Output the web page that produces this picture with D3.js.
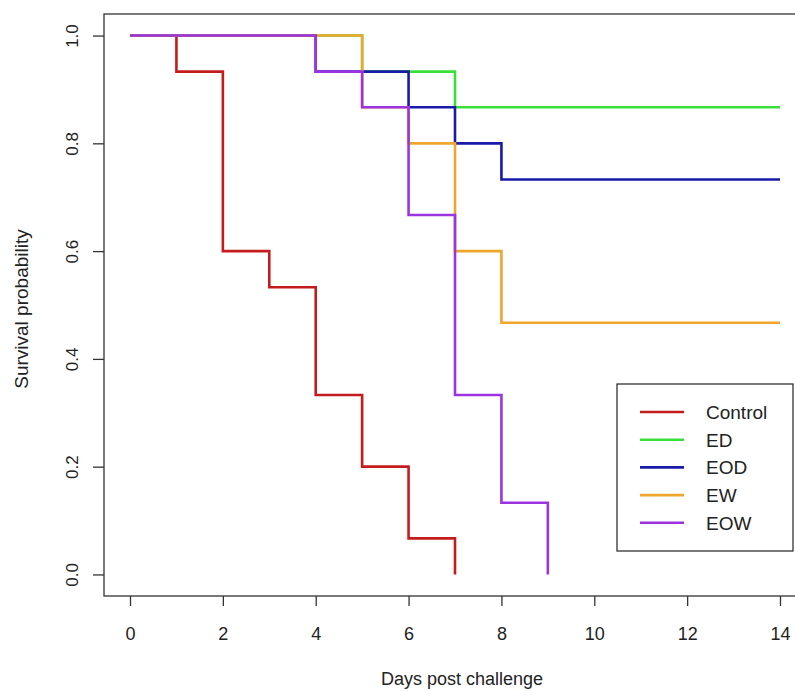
<!DOCTYPE html>
<html><head><meta charset="utf-8">
<script src="https://cdn.jsdelivr.net/npm/d3@7"></script>
<style>body{margin:0;background:#fff}svg{display:block;font-family:"Liberation Sans",Arial,sans-serif}</style>
</head><body>
<svg id="chart" width="795" height="691"></svg>
<script>
const groups = ["Control","ED","EOD","EW","EOW"];
const colors = ["#c41c1c","#3ae03a","#1a1aa8","#eea62c","#9b34e0"];
const controlTimes = [0,1,2,3,4,5,6,7];
const controlSurv  = [1,0.933,0.6,0.533,0.333,0.2,0.067,0];
const edTimes = [0,5,7,14];
const edSurv  = [1,0.933,0.867,0.867];
const eodTimes = [0,4,6,7,8,14];
const eodSurv  = [1,0.933,0.867,0.8,0.733,0.733];
const ewTimes = [0,5,6,7,8,14];
const ewSurv  = [1,0.867,0.8,0.6,0.467,0.467];
const eowTimes = [0,4,5,6,7,8,9];
const eowSurv  = [1,0.933,0.867,0.667,0.333,0.133,0];
const xTicks = [0,2,4,6,8,10,12,14];
const yTicks = [0,0.2,0.4,0.6,0.8,1.0];
const xTitle = "Days post challenge";
const yTitle = "Survival probability";

const series = [
  [controlTimes, controlSurv],[edTimes, edSurv],[eodTimes, eodSurv],[ewTimes, ewSurv],[eowTimes, eowSurv]
].map((d,i)=>({name:groups[i], color:colors[i], pts:d[0].map((t,j)=>[t,d[1][j]])}));

const svg = d3.select("#chart");
const x = d3.scaleLinear().domain([-0.56,14.56]).range([104,806]);
const y = d3.scaleLinear().domain([-0.04,1.04]).range([596,14]);

// box
svg.append("rect").attr("x",104).attr("y",14).attr("width",702).attr("height",582)
  .attr("fill","none").attr("stroke","#333").attr("stroke-width",1.3);

// x axis
const xa = svg.append("g").attr("transform","translate(0,596)")
  .call(d3.axisBottom(x).tickValues(xTicks).tickSize(10).tickSizeOuter(0).tickFormat(d3.format("d")));
xa.select(".domain").remove();
xa.selectAll("line").attr("stroke","#333").attr("stroke-width",1.3);
xa.selectAll("text").attr("font-size",18).attr("fill","#222").attr("dy",0).attr("y",44)
  .attr("font-family","Liberation Sans, Arial, sans-serif");

// y axis
const ya = svg.append("g").attr("transform","translate(104,0)")
  .call(d3.axisLeft(y).tickValues(yTicks).tickSize(11).tickSizeOuter(0).tickFormat(d3.format(".1f")));
ya.select(".domain").remove();
ya.selectAll("line").attr("stroke","#333").attr("stroke-width",1.3);
ya.selectAll("text").attr("font-size",17).attr("fill","#222")
  .attr("font-family","Liberation Sans, Arial, sans-serif")
  .attr("x",null).attr("dy",null).attr("text-anchor","middle")
  .attr("transform","translate(-26,0) rotate(-90)");

// titles
svg.append("text").attr("x",462).attr("y",685).attr("text-anchor","middle")
  .attr("font-size",18).attr("fill","#222").text(xTitle);
svg.append("text").attr("transform","translate(28,309) rotate(-90)").attr("text-anchor","middle")
  .attr("font-size",19).attr("fill","#222").text(yTitle);

// curves
const line = d3.line().x(d=>x(d[0])).y(d=>y(d[1])).curve(d3.curveStepAfter);
svg.append("g").selectAll("path").data(series).join("path")
  .attr("d",d=>line(d.pts)).attr("fill","none").attr("stroke",d=>d.color)
  .attr("stroke-width",2.6).attr("stroke-linejoin","miter").attr("stroke-linecap","butt");

// legend
const lg = svg.append("g");
lg.append("rect").attr("x",617).attr("y",384).attr("width",176).attr("height",167)
  .attr("fill","#fff").attr("stroke","#222").attr("stroke-width",1.2);
const rows = lg.selectAll("g.row").data(series).join("g").attr("class","row")
  .attr("transform",(d,i)=>`translate(0,${412+i*27.7})`);
rows.append("line").attr("x1",640).attr("x2",684).attr("y1",0).attr("y2",0)
  .attr("stroke",d=>d.color).attr("stroke-width",2.6);
rows.append("text").attr("x",706).attr("y",7).attr("font-size",19).attr("fill","#222").text(d=>d.name);
</script>
</body></html>
